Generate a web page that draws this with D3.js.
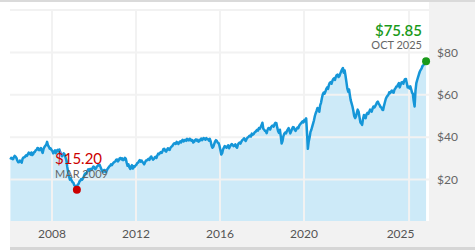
<!DOCTYPE html>
<html>
<head>
<meta charset="utf-8">
<script src="https://cdn.jsdelivr.net/npm/d3@7"></script>
<style>
  body { margin: 0; background: #fff; }
  svg { display: block; font-family: Lato, "Open Sans", sans-serif; }
</style>
</head>
<body>
<div id="chart"></div>
<script>
// early-month closes, Jan 2006 .. Oct 2025
const startMonth = "2006-01";
const prices = [
  29.5, 30.0, 30.5, 30.8, 29.0, 28.3, 28.6, 29.8, 30.5, 31.5, 32.0, 32.3,
  32.8, 32.0, 33.0, 34.0, 34.8, 34.2, 33.5, 34.5, 36.0, 37.8, 35.5, 34.8,
  33.5, 33.0, 32.5, 34.0, 34.2, 32.0, 31.5, 31.8, 29.0, 23.5, 20.0, 19.5,
  18.5, 17.0, 16.6, 18.0, 19.5, 20.0, 21.5, 23.0, 24.0, 24.2, 25.0, 25.5,
  25.8, 25.5, 26.5, 27.0, 25.0, 23.6, 24.5, 24.0, 25.5, 26.5, 26.8, 28.0,
  28.6, 29.5, 29.2, 30.2, 30.0, 29.4, 29.8, 26.5, 25.8, 26.2, 25.2, 26.0,
  27.0, 28.0, 29.2, 29.0, 27.8, 28.2, 29.0, 29.8, 30.5, 30.0, 29.8, 30.8,
  31.5, 32.0, 33.0, 33.5, 34.5, 33.2, 34.8, 34.0, 35.5, 36.5, 37.2, 37.8,
  36.8, 38.0, 38.2, 38.0, 38.8, 39.2, 38.5, 39.0, 38.6, 37.8, 39.0, 38.8,
  38.2, 39.4, 39.0, 39.3, 39.6, 39.0, 39.2, 36.0, 35.5, 38.0, 38.2, 37.2,
  34.0, 32.5, 35.0, 35.5, 35.6, 34.8, 36.2, 36.4, 36.0, 35.5, 36.5, 37.5,
  38.0, 39.0, 38.8, 39.2, 40.0, 40.8, 41.7, 41.5, 42.5, 43.5, 44.3, 44.8,
  46.8, 43.5, 42.8, 43.5, 44.2, 44.8, 45.5, 46.2, 46.6, 42.8, 43.5, 37.0,
  40.5, 42.2, 42.8, 44.3, 41.8, 44.0, 44.6, 43.0, 44.5, 45.3, 46.5, 47.5,
  48.2, 48.9, 34.5, 40.0, 43.5, 46.5, 50.0, 52.5, 53.0, 55.0, 58.5, 61.0,
  61.5, 63.5, 64.5, 66.0, 66.5, 67.8, 68.5, 69.5, 68.8, 71.0, 72.6, 71.5,
  66.0, 61.5, 60.0, 56.0, 52.5, 49.0, 51.5, 52.0, 47.0, 45.8, 50.5, 49.0,
  51.5, 52.0, 52.8, 53.5, 54.0, 55.5, 56.8, 55.2, 54.0, 52.8, 56.5, 59.0,
  60.0, 60.8, 62.0, 61.0, 63.0, 64.0, 65.5, 64.8, 66.0, 66.5, 67.5, 63.5,
  63.0, 62.5, 60.5, 54.5, 65.5, 68.5, 71.0, 72.5, 74.0, 75.85
];
// mid-month closes, Jan 2006 .. Sep 2025
const midPrices = [
  30.3, 29.6, 31.2, 30.2, 28.2, 29.0, 28.0, 30.4, 30.9, 31.2, 32.7, 31.8,
  31.6, 32.9, 33.8, 34.9, 33.9, 34.9, 32.6, 35.4, 36.5, 36.2, 34.6, 34.0,
  32.4, 33.8, 33.6, 33.3, 33.0, 31.0, 32.4, 30.5, 26.0, 21.5, 20.6, 18.8,
  17.3, 16.8, 17.6, 19.1, 20.3, 20.5, 22.6, 22.8, 24.8, 25.0, 24.6, 26.2,
  24.9, 26.3, 27.1, 26.0, 24.0, 24.5, 23.5, 25.0, 26.2, 27.2, 27.5, 28.4,
  29.4, 28.6, 30.0, 29.5, 29.2, 30.3, 28.0, 27.2, 25.0, 26.8, 26.3, 26.6,
  27.8, 28.8, 28.5, 28.3, 27.2, 29.0, 29.5, 29.3, 30.9, 29.4, 30.5, 30.2,
  32.3, 32.6, 32.6, 34.4, 33.6, 34.0, 34.2, 35.0, 35.8, 37.1, 36.8, 37.3,
  37.6, 37.5, 38.8, 38.5, 38.3, 38.6, 39.3, 38.3, 37.5, 38.6, 38.4, 37.9,
  38.9, 38.6, 39.6, 38.8, 39.1, 38.4, 38.0, 35.0, 36.8, 38.6, 37.4, 36.0,
  31.8, 34.2, 35.8, 35.0, 36.2, 35.6, 36.8, 35.8, 36.6, 35.0, 37.2, 37.0,
  38.6, 39.5, 38.2, 39.8, 40.5, 40.3, 41.2, 42.2, 43.0, 43.1, 44.0, 45.6,
  44.0, 43.0, 41.9, 44.3, 43.6, 45.3, 45.0, 46.8, 44.5, 42.0, 40.5, 38.2,
  41.6, 41.8, 43.6, 43.0, 42.8, 44.8, 43.5, 43.8, 44.2, 46.0, 47.0, 47.0,
  47.5, 42.0, 38.0, 42.5, 45.0, 48.0, 51.3, 53.8, 52.0, 56.2, 60.2, 60.5,
  62.8, 62.8, 65.6, 65.2, 67.4, 67.0, 69.3, 68.4, 70.0, 72.0, 70.4, 69.0,
  63.0, 62.5, 57.5, 54.5, 50.0, 49.8, 53.0, 49.5, 46.5, 48.5, 49.2, 50.8,
  51.0, 53.0, 52.0, 54.5, 54.6, 56.4, 55.8, 54.3, 53.0, 54.8, 58.0, 59.5,
  61.2, 61.5, 61.2, 62.5, 63.8, 64.8, 63.5, 65.8, 65.2, 67.4, 65.5, 63.8,
  64.0, 61.0, 57.0, 62.0, 67.0, 69.8, 71.8, 73.6, 74.6
];
const yTicks = [20, 40, 60, 80];
const yGrid = [0, 20, 40, 60, 80, 100];
const xTickYears = [2008, 2012, 2016, 2020, 2025];

const lowPoint = { date: "2009-03-09", value: 15.20, label: "$15.20", sub: "MAR 2009" };
const lastPoint = { date: "2025-10-24", value: 75.85, label: "$75.85", sub: "OCT 2025" };

const W = 475, H = 250;
const plot = { left: 10, right: 429, top: 10, bottom: 222 };

const parseMonth = d3.timeParse("%Y-%m");
const parseDay = d3.timeParse("%Y-%m-%d");
const start = parseMonth(startMonth);
const data = [];
prices.forEach((v, i) => {
  const m = d3.timeMonth.offset(start, i);
  data.push({ date: d3.timeDay.offset(m, 7), value: v });
  if (i < midPrices.length) data.push({ date: d3.timeDay.offset(m, 22), value: midPrices[i] });
});
data[data.length - 1].date = parseDay(lastPoint.date);

const x = d3.scaleTime()
  .domain([new Date(2006, 0, 1), new Date(2025, 11, 14)])
  .range([plot.left, plot.right]);
const y = d3.scaleLinear().domain([0, 100]).range([plot.bottom, plot.top]);

const svg = d3.select("#chart").append("svg")
  .attr("width", W).attr("height", H);

// frame pieces
svg.append("rect").attr("x", 0).attr("y", 0).attr("width", W).attr("height", 2).attr("fill", "#dadada");
svg.append("rect").attr("x", plot.right).attr("y", 2).attr("width", W - plot.right).attr("height", H - 2).attr("fill", "#f2f2f2");
svg.append("rect").attr("x", plot.left).attr("y", plot.bottom + 1).attr("width", W - plot.left).attr("height", H - plot.bottom - 1).attr("fill", "#f2f2f2");
svg.append("rect").attr("x", plot.left).attr("y", 247).attr("width", W - plot.left).attr("height", 3).attr("fill", "#d6d6d6");

// area
const area = d3.area()
  .x(d => x(d.date))
  .y0(y(0))
  .y1(d => y(d.value));
svg.append("path").datum(data)
  .attr("d", area)
  .attr("fill", "#cdeaf8");

// grid
svg.append("g").selectAll("line")
  .data(yGrid).join("line")
  .attr("x1", plot.left).attr("x2", plot.right)
  .attr("y1", d => y(d)).attr("y2", d => y(d))
  .attr("stroke", "#f2f2f2").attr("stroke-width", 2);
svg.append("g").selectAll("line")
  .data(xTickYears).join("line")
  .attr("x1", d => x(new Date(d, 0, 1))).attr("x2", d => x(new Date(d, 0, 1)))
  .attr("y1", plot.top).attr("y2", plot.bottom)
  .attr("stroke", "#f2f2f2").attr("stroke-width", 2);

// line
const line = d3.line()
  .x(d => x(d.date))
  .y(d => y(d.value));
svg.append("path").datum(data)
  .attr("d", line)
  .attr("fill", "none")
  .attr("stroke", "#1596d8")
  .attr("stroke-width", 2.5)
  .attr("stroke-linejoin", "round");

// y labels
svg.append("g").selectAll("text")
  .data(yTicks).join("text")
  .attr("x", 437).attr("y", d => y(d))
  .attr("dy", "0.35em")
  .attr("font-size", 12)
  .attr("fill", "#666")
  .text(d => "$" + d);

// x labels (last one pulled left, as in the original)
svg.append("g").selectAll("text")
  .data(xTickYears).join("text")
  .attr("x", (d, i) => x(new Date(d, 0, 1)) - (i === xTickYears.length - 1 ? 8.5 : 0))
  .attr("y", 238)
  .attr("text-anchor", "middle")
  .attr("font-size", 12)
  .attr("fill", "#555")
  .text(d => d);

// low annotation
const lowX = x(parseDay(lowPoint.date)), lowY = y(lowPoint.value);
svg.append("text").attr("x", 55).attr("y", 164)
  .attr("font-size", 15).attr("fill", "#cc0000").text(lowPoint.label);
svg.append("text").attr("x", 55).attr("y", 178)
  .attr("font-size", 11).attr("fill", "#666").text(lowPoint.sub);
svg.append("circle").attr("cx", lowX).attr("cy", lowY).attr("r", 4).attr("fill", "#cc0000");

// last annotation
const lastX = x(parseDay(lastPoint.date)), lastY = y(lastPoint.value);
svg.append("text").attr("x", 422).attr("y", 36).attr("text-anchor", "end")
  .attr("font-size", 15).attr("font-weight", 600).attr("fill", "#1a9a1a").text(lastPoint.label);
svg.append("text").attr("x", 422).attr("y", 49).attr("text-anchor", "end")
  .attr("font-size", 11).attr("fill", "#666").text(lastPoint.sub);
svg.append("circle").attr("cx", lastX).attr("cy", lastY).attr("r", 4).attr("fill", "#1a9a1a");
</script>
</body>
</html>
